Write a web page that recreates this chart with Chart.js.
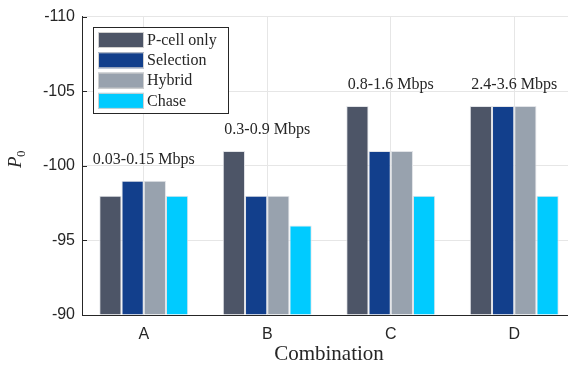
<!DOCTYPE html>
<html>
<head>
<meta charset="utf-8">
<script src="https://cdn.jsdelivr.net/npm/chart.js@4"></script>
<style>
  body { margin: 0; background: #fff; overflow: hidden; }
  #wrap { width: 568px; height: 367px; overflow: hidden; }
</style>
</head>
<body>
<div id="wrap"><canvas id="p0chart" width="576" height="367"></canvas></div>
<script>
// data
var categories = ['A', 'B', 'C', 'D'];
var pcellOnly = [-98, -101, -104, -104];
var selection = [-99, -98, -101, -104];
var hybrid = [-99, -98, -101, -104];
var chase = [-98, -96, -98, -98];
var rateLabels = ['0.03-0.15 Mbps', '0.3-0.9 Mbps', '0.8-1.6 Mbps', '2.4-3.6 Mbps'];
var seriesNames = ['P-cell only', 'Selection', 'Hybrid', 'Chase'];
var seriesColors = ['#4d5567', '#123f8c', '#98a2ae', '#00cbff'];

var axisColor = '#262626';
var serif = "'Liberation Serif', 'DejaVu Serif', serif";
var sans = "'Liberation Sans', Arial, sans-serif";

var ctx = document.getElementById('p0chart').getContext('2d');

// rate labels above each group, legend box and the P0 title
var extrasPlugin = {
    id: 'extras',
    afterDatasetsDraw: function(chart) {
        var c = chart.ctx, x = chart.scales.x, y = chart.scales.y;
        var area = chart.chartArea;
        c.save();
        // inward ticks on the y axis
        c.strokeStyle = axisColor;
        c.lineWidth = 1;
        y.ticks.forEach(function(t) {
            var py = Math.round(y.getPixelForValue(t.value)) + 0.5;
            c.beginPath();
            c.moveTo(area.left, py);
            c.lineTo(area.left + 5, py);
            c.stroke();
        });
        // group rate labels
        c.fillStyle = axisColor;
        c.font = '16px ' + serif;
        c.textAlign = 'center';
        c.textBaseline = 'middle';
        categories.forEach(function(cat, i) {
            var top = Math.min(pcellOnly[i], selection[i], hybrid[i], chase[i]);
            var py = y.getPixelForValue(top) - 21;
            c.fillText(rateLabels[i], x.getPixelForValue(i), py);
        });
        // legend
        var bx = 93.5, by = 27.5, bw = 135, bh = 86;
        c.fillStyle = '#fff';
        c.fillRect(bx, by, bw, bh);
        c.strokeStyle = axisColor;
        c.strokeRect(bx, by, bw, bh);
        c.textAlign = 'left';
        seriesNames.forEach(function(name, i) {
            var ry = 32 + i * 20.3;
            c.fillStyle = seriesColors[i];
            c.fillRect(98, ry, 46, 16);
            c.strokeStyle = '#d0d0d0';
            c.strokeRect(98.5, ry + 0.5, 45, 15);
            c.fillStyle = axisColor;
            c.font = '16px ' + serif;
            c.fillText(name, 147, ry + 8.5);
        });
        // y title: italic P with subscript 0
        c.translate(21, 160);
        c.rotate(-Math.PI / 2);
        c.textBaseline = 'alphabetic';
        c.font = 'italic 19px ' + serif;
        c.fillText('P', -8, 0);
        c.font = '13px ' + serif;
        c.fillText('0', 3, 4);
        c.restore();
    }
};

var datasets = [pcellOnly, selection, hybrid, chase].map(function(vals, i) {
    return {
        label: seriesNames[i],
        data: vals,
        base: -90,
        backgroundColor: seriesColors[i],
        borderColor: '#e2e4e8',
        borderWidth: 1,
        categoryPercentage: 0.72,
        barPercentage: 1.0
    };
});

var p0Chart = new Chart(ctx, {
    type: 'bar',
    data: { labels: categories, datasets: datasets },
    options: {
        responsive: false,
        animation: false,
        layout: { padding: { left: 0, top: 15, right: 0, bottom: 0 } },
        plugins: {
            legend: { display: false },
            tooltip: { enabled: false }
        },
        scales: {
            x: {
                offset: true,
                grid: { offset: false, color: '#e6e6e6', drawTicks: false },
                border: { color: axisColor, width: 1 },
                ticks: { color: axisColor, font: { family: sans, size: 16 }, padding: 10 },
                title: {
                    display: true,
                    text: 'Combination',
                    color: axisColor,
                    font: { family: serif, size: 21 },
                    padding: { top: 0, bottom: 0 }
                },
                afterFit: function(s) { s.height = 52; }
            },
            y: {
                min: -110,
                max: -90,
                reverse: true,
                grid: { color: '#e6e6e6', drawTicks: false },
                border: { color: axisColor, width: 1 },
                ticks: {
                    stepSize: 5,
                    color: axisColor,
                    font: { family: sans, size: 16 },
                    padding: 7
                },
                afterFit: function(s) { s.width = 82; }
            }
        }
    },
    plugins: [extrasPlugin]
});
</script>
</body>
</html>
